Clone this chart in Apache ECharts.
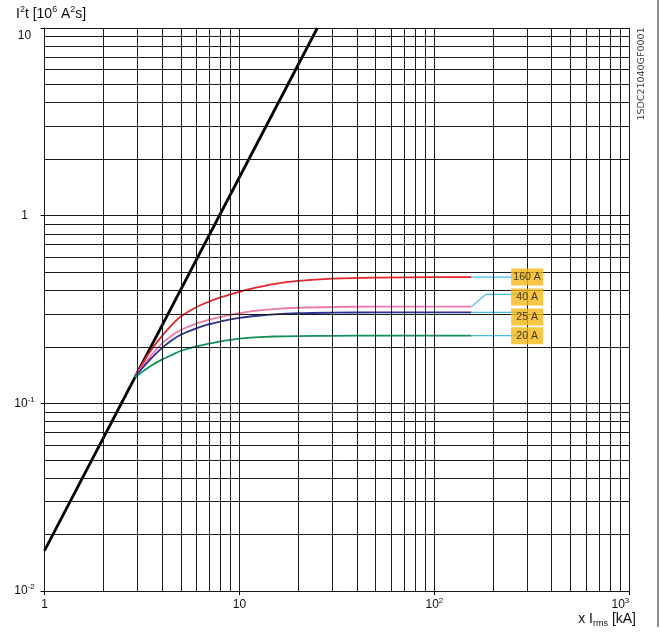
<!DOCTYPE html>
<html>
<head>
<meta charset="utf-8">
<script src="https://cdn.jsdelivr.net/npm/echarts@6/dist/echarts.min.js"></script>
<style>
html,body{margin:0;padding:0;background:#fff;}
#c{width:660px;height:633px;}
</style>
</head>
<body>
<div id="c"></div>
<script>
// ---- data ----
const xTickLabels = ['1', '10', '10^2', '10^3'];
const yTickLabels = ['10^-2', '10^-1', '1', '10'];
const gridX = [1, 2, 3, 4, 5, 6, 7, 8, 9, 10, 20, 30, 40, 50, 60, 70, 80, 90, 100, 200, 300, 400, 500, 600, 700, 800, 900, 1000];
const gridY = [0.01, 0.02, 0.03, 0.04, 0.05, 0.06, 0.07, 0.08, 0.09, 0.1, 0.2, 0.3, 0.4, 0.5, 0.6, 0.7, 0.8, 0.9, 1, 2, 3, 4, 5, 6, 7, 8, 9, 10];
const limitLine = [[1, 0.0164], [25.1, 10]];
const curveX = [2.9, 3, 3.5, 4, 4.5, 5, 6, 7, 8, 9, 10, 12, 15, 20, 30, 50, 100, 155];
const red160 = [0.138, 0.147, 0.190, 0.228, 0.262, 0.290, 0.325, 0.349, 0.367, 0.381, 0.393, 0.412, 0.432, 0.449, 0.462, 0.468, 0.470, 0.470];
const pink40 = [0.138, 0.145, 0.178, 0.208, 0.230, 0.246, 0.266, 0.279, 0.289, 0.296, 0.302, 0.311, 0.318, 0.323, 0.326, 0.3275, 0.3276, 0.3276];
const navy25 = [0.138, 0.144, 0.172, 0.197, 0.217, 0.232, 0.251, 0.264, 0.273, 0.280, 0.285, 0.292, 0.298, 0.302, 0.304, 0.3053, 0.3056, 0.3056];
const green20 = [0.138, 0.141, 0.158, 0.171, 0.181, 0.190, 0.201, 0.208, 0.214, 0.218, 0.221, 0.2245, 0.227, 0.2283, 0.2290, 0.2294, 0.2295, 0.2295];
const curveNames = ['160 A', '40 A', '25 A', '20 A'];
const leaders = [
  [[155, 0.470], [299, 0.470]],
  [[155, 0.3276], [184, 0.381], [299, 0.381]],
  [[155, 0.3056], [299, 0.3056]],
  [[155, 0.2295], [299, 0.2295]]
];
const labelPos = [[299, 0.471], [299, 0.369], [299, 0.2886], [299, 0.2295]];

// ---- build ----
const FONT = '"Liberation Sans", Arial, Helvetica, sans-serif';
function richLabel(s) {
  const p = s.split('^');
  return p.length > 1 ? '{b|' + p[0] + '}{s|' + p[1] + '}' : '{b|' + p[0] + '}';
}
const tickRich = {
  b: { fontSize: 12, lineHeight: 16, color: '#111', fontFamily: FONT },
  s: { fontSize: 8, lineHeight: 9, color: '#111', fontFamily: FONT, verticalAlign: 'top' }
};
const zip = ys => curveX.map((x, i) => [x, ys[i]]);
const curveColors = ['#e8242c', '#ef7aa9', '#2e3192', '#10925a'];
const curves = [red160, pink40, navy25, green20];

const series = [];
series.push({
  type: 'line', name: 'grid', data: [[1, 0.01]], symbol: 'none', silent: true,
  lineStyle: { opacity: 0 },
  markLine: {
    silent: true, symbol: ['none', 'none'], label: { show: false }, animation: false,
    lineStyle: { color: '#1a1a1a', width: 1, type: 'solid' },
    emphasis: { disabled: true },
    data: gridX.map(v => ({ xAxis: v })).concat(gridY.map(v => ({ yAxis: v })))
  }
});
series.push({
  type: 'line', data: limitLine, symbol: 'none', silent: true,
  lineStyle: { color: '#000', width: 2.8 }
});
curves.forEach((ys, i) => {
  series.push({
    type: 'line', name: curveNames[i], data: zip(ys), symbol: 'none', smooth: 0.3, silent: true,
    lineStyle: { color: curveColors[i], width: 1.8 }
  });
});
leaders.forEach(d => {
  series.push({
    type: 'line', data: d, symbol: 'none', silent: true,
    lineStyle: { color: '#45bbe8', width: 1.2 }
  });
});
series.push({
  type: 'scatter', symbolSize: 1, silent: true, z: 10,
  itemStyle: { color: 'rgba(0,0,0,0)' },
  data: labelPos.map((p, i) => ({ value: p, name: curveNames[i] })),
  label: {
    show: true, position: 'inside', formatter: p => p.name,
    backgroundColor: '#f8b616', color: '#111', fontSize: 10.5, fontFamily: FONT,
    width: 32, height: 17, lineHeight: 17, align: 'center', verticalAlign: 'middle', padding: 0
  }
});

const chart = echarts.init(document.getElementById('c'), null, { renderer: 'canvas' });
chart.setOption({
  animation: false,
  backgroundColor: '#fff',
  grid: { left: 44.5, right: 30.7, top: 28, bottom: 42, containLabel: false, outerBoundsMode: 'none' },
  xAxis: {
    type: 'log', logBase: 10, min: 1, max: 1000, splitNumber: 3,
    axisLine: { show: true, lineStyle: { color: '#000', width: 1 } },
    axisTick: { show: true, length: 4, lineStyle: { color: '#000' } },
    splitLine: { show: false }, minorTick: { show: false },
    axisLabel: {
      margin: 6, alignMaxLabel: 'right',
      formatter: v => richLabel(xTickLabels[Math.round(Math.log10(v))]),
      rich: tickRich
    }
  },
  yAxis: {
    type: 'log', logBase: 10, min: 0.01, max: 10, splitNumber: 3,
    axisLine: { show: true, lineStyle: { color: '#000', width: 1 } },
    axisTick: { show: true, length: 4, lineStyle: { color: '#000' } },
    splitLine: { show: false }, minorTick: { show: false },
    axisLabel: {
      margin: 20, align: 'center', verticalAlignMaxLabel: 'top',
      formatter: v => richLabel(yTickLabels[Math.round(Math.log10(v)) + 2]),
      rich: tickRich
    }
  },
  graphic: [
    {
      type: 'text', x: 16, y: 14, silent: true,
      style: {
        text: 'I{s|2}t [10{s|6} A{s|2}s]',
        fontSize: 14, lineHeight: 18, fontFamily: FONT, fill: '#111',
        align: 'left', verticalAlign: 'middle',
        rich: { s: { fontSize: 9, lineHeight: 10, verticalAlign: 'top', fontFamily: FONT, fill: '#111' } }
      }
    },
    {
      type: 'text', x: 636, y: 619, silent: true,
      style: {
        text: 'x I{r|rms} [kA]',
        fontSize: 14, lineHeight: 18, fontFamily: FONT, fill: '#111',
        align: 'right', verticalAlign: 'middle',
        rich: { r: { fontSize: 9, lineHeight: 10, verticalAlign: 'bottom', fontFamily: FONT, fill: '#111' } }
      }
    },
    {
      type: 'text', x: 642, y: 74, rotation: Math.PI / 2, silent: true,
      style: {
        text: '1SDC21040GF0001', fontSize: 9.5, fontFamily: '"DejaVu Sans", sans-serif',
        fill: '#444', align: 'center', verticalAlign: 'middle'
      }
    },
    {
      type: 'line', silent: true,
      shape: { x1: 658, y1: 0, x2: 658, y2: 627 },
      style: { stroke: '#222', lineWidth: 1 }
    }
  ],
  series: series
});
</script>
</body>
</html>
